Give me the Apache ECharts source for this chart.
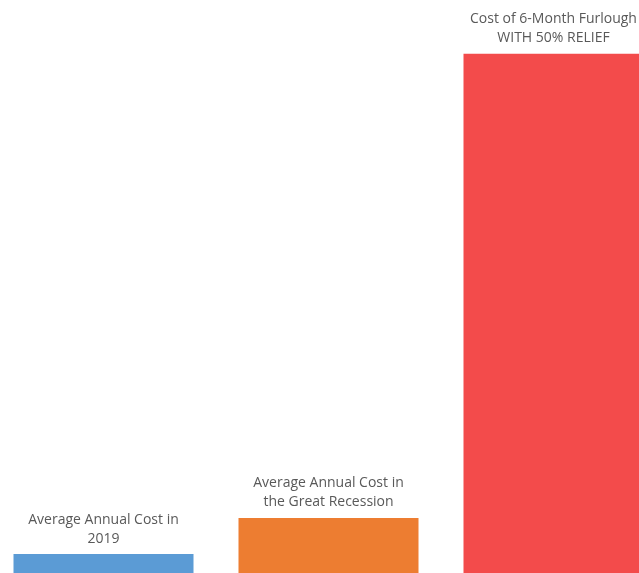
<!DOCTYPE html>
<html><head><meta charset="utf-8">
<script src="https://cdn.jsdelivr.net/npm/echarts@6/dist/echarts.min.js"></script>
<style>html,body{margin:0;padding:0;background:#fff;overflow:hidden}#c{position:absolute;left:-9.5px;top:0;width:675px;height:573px}</style>
</head><body><div id="c"></div>
<script>
const categories = ["Average Annual Cost in\n2019", "Average Annual Cost in\nthe Great Recession", "Cost of 6-Month Furlough\nWITH 50% RELIEF"];
const values = [3.3, 9.6, 90.6];
const colors = ["#5B9BD5", "#ED7D31", "#F34B4B"];

const chart = echarts.init(document.getElementById('c'));
chart.setOption({
  animation: false,
  grid: {left: 0, right: 0, top: 0, bottom: 0, containLabel: false},
  xAxis: {type: 'category', data: categories, show: false},
  yAxis: {type: 'value', min: 0, max: 100, show: false},
  series: [{
    type: 'bar',
    barCategoryGap: '20%',
    data: values.map((v, i) => ({value: v, itemStyle: {color: colors[i]}})),
    label: {
      show: true, position: 'top', distance: 6,
      formatter: p => categories[p.dataIndex],
      color: '#595959', fontFamily: 'Open Sans', fontSize: 14, lineHeight: 19, align: 'center'
    }
  }]
});
</script></body></html>
